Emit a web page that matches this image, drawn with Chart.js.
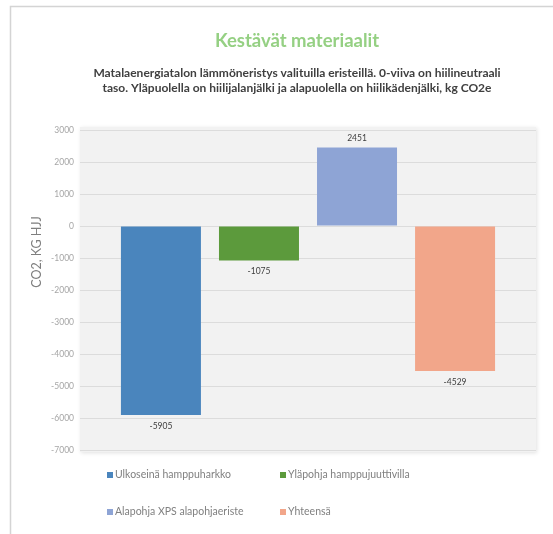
<!DOCTYPE html>
<html>
<head>
<meta charset="utf-8">
<script src="https://cdn.jsdelivr.net/npm/chart.js@4.4.1/dist/chart.umd.min.js"></script>
<style>
html, body { margin: 0; padding: 0; background: #fff; }
#wrap { position: relative; width: 553px; height: 534px; }
</style>
</head>
<body>
<div id="wrap"><canvas id="chart" width="553" height="534"></canvas></div>
<script>
// data
var seriesLabels = ["Ulkoseinä hamppuharkko", "Yläpohja hamppujuuttivilla", "Alapohja XPS alapohjaeriste", "Yhteensä"];
var seriesValues = [-5905, -1075, 2451, -4529];
var seriesColors = ["#4a85bd", "#5c9a3c", "#8ea4d5", "#f2a68a"];
var yMin = -7000, yMax = 3000, yStep = 1000;

var titleText = "Kestävät materiaalit";
var subtitleLines = [
    "Matalaenergiatalon lämmöneristys valituilla eristeillä. 0-viiva on hiilineutraali",
    "taso. Yläpuolella on hiilijalanjälki ja alapuolella on hiilikädenjälki, kg CO2e"
];
var yAxisTitle = "CO2, KG HJJ";

var FONT = "Lato, 'Open Sans', sans-serif";

var datasets = seriesLabels.map(function(label, i){
    return {
        label: label,
        data: [seriesValues[i]],
        backgroundColor: seriesColors[i],
        borderWidth: 0,
        categoryPercentage: 0.86,
        barPercentage: 0.816
    };
});

// white frame + grey plot area
var background = {
    id: 'background',
    beforeDraw: function(chart){
        var ctx = chart.ctx, a = chart.chartArea;
        ctx.save();
        ctx.fillStyle = '#fff';
        ctx.fillRect(0, 0, chart.width, chart.height);
        ctx.strokeStyle = '#d4d4d4';
        ctx.lineWidth = 1.5;
        ctx.beginPath();
        ctx.moveTo(10.5, chart.height);
        ctx.lineTo(10.5, 6.5);
        ctx.lineTo(chart.width, 6.5);
        ctx.stroke();
        ctx.shadowColor = 'rgba(0,0,0,0.12)';
        ctx.shadowBlur = 4;
        ctx.shadowOffsetX = 1;
        ctx.shadowOffsetY = 1;
        ctx.fillStyle = '#f2f2f2';
        ctx.fillRect(a.left, a.top - 3, a.right - a.left, a.bottom - a.top + 5);
        ctx.restore();
    }
};

// value labels at the end of each bar
var valueLabels = {
    id: 'valueLabels',
    afterDatasetsDraw: function(chart){
        var ctx = chart.ctx;
        ctx.save();
        ctx.font = "8.5px " + FONT;
        ctx.fillStyle = '#404040';
        ctx.textAlign = 'center';
        ctx.textBaseline = 'middle';
        chart.data.datasets.forEach(function(ds, i){
            var bar = chart.getDatasetMeta(i).data[0];
            var v = ds.data[0];
            var y = v >= 0 ? bar.y - 9 : bar.y + 11;
            ctx.fillText(String(v), bar.x, y);
        });
        ctx.restore();
    }
};

// titles, axis title and a two-column legend
var texts = {
    id: 'texts',
    afterDraw: function(chart){
        var ctx = chart.ctx;
        ctx.save();
        ctx.textAlign = 'center';
        ctx.textBaseline = 'middle';
        ctx.fillStyle = '#95d083';
        ctx.font = "bold 18.5px " + FONT;
        ctx.fillText(titleText, 297, 41);

        ctx.fillStyle = '#404040';
        ctx.font = "bold 12px " + FONT;
        ctx.fillText(subtitleLines[0], 297, 73);
        ctx.fillText(subtitleLines[1], 297, 88);

        ctx.save();
        ctx.translate(37, 252);
        ctx.rotate(-Math.PI / 2);
        ctx.fillStyle = '#7f7f7f';
        ctx.font = "12.5px " + FONT;
        ctx.fillText(yAxisTitle, 0, 0);
        ctx.restore();

        var colX = [107, 280], rowY = [475, 512];
        ctx.textAlign = 'left';
        ctx.font = "10.5px " + FONT;
        chart.data.datasets.forEach(function(ds, i){
            var x = colX[i % 2], y = rowY[Math.floor(i / 2)];
            ctx.fillStyle = ds.backgroundColor;
            ctx.fillRect(x, y - 3, 6, 6);
            ctx.fillStyle = '#808080';
            ctx.fillText(ds.label, x + 8, y);
        });
        ctx.restore();
    }
};

var ctx = document.getElementById("chart").getContext('2d');
var chart = new Chart(ctx, {
    type: 'bar',
    data: {
        labels: [''],
        datasets: datasets
    },
    options: {
        responsive: false,
        animation: false,
        devicePixelRatio: 1,
        layout: { padding: { left: 0, right: 17, top: 130, bottom: 84 } },
        plugins: {
            legend: { display: false },
            title: { display: false },
            tooltip: { enabled: false }
        },
        scales: {
            x: { display: false },
            y: {
                min: yMin,
                max: yMax,
                border: { display: false },
                grid: { color: '#dcdcdc', drawTicks: false },
                ticks: {
                    stepSize: yStep,
                    padding: 6,
                    color: '#a6a6a6',
                    font: { family: FONT, size: 8.5 },
                    callback: function(v){ return String(v); }
                },
                afterFit: function(scale){ scale.width = 80; }
            }
        }
    },
    plugins: [background, valueLabels, texts]
});
</script>
</body>
</html>
